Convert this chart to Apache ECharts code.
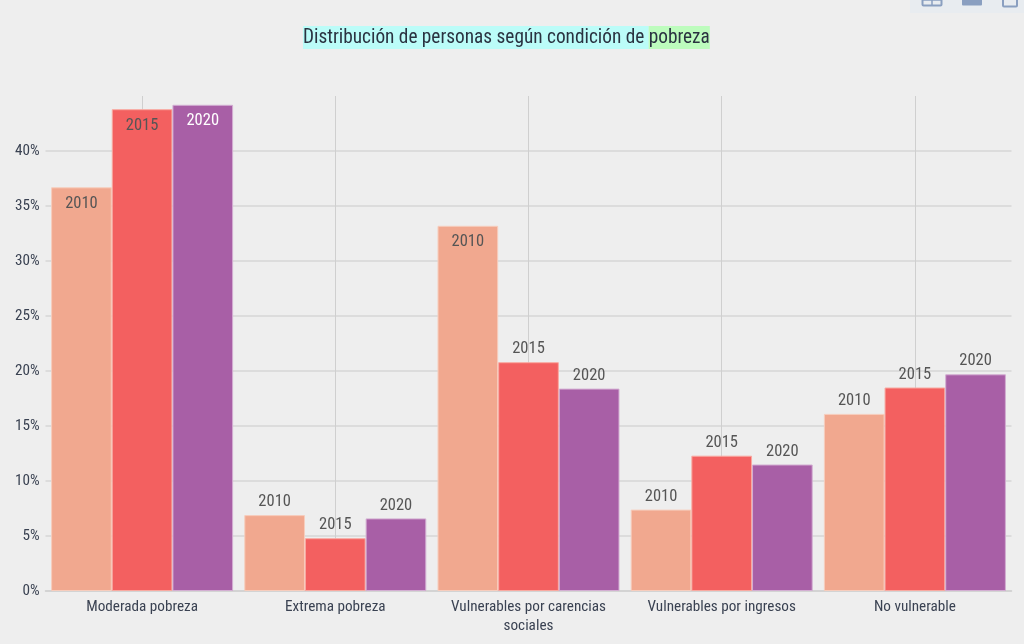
<!DOCTYPE html>
<html><head><meta charset="utf-8">
<style>html,body{margin:0;padding:0;background:#eeeeee}#c{width:1024px;height:644px}</style>
<script src="https://cdn.jsdelivr.net/npm/echarts@6/dist/echarts.min.js"></script>
</head><body><div id="c"></div>
<script>
const categories = ['Moderada pobreza','Extrema pobreza','Vulnerables por carencias\nsociales','Vulnerables por ingresos','No vulnerable'];
const years = ['2010','2015','2020'];
const values2010 = [36.7,6.9,33.2,7.4,16.1];
const values2015 = [43.8,4.8,20.8,12.3,18.5];
const values2020 = [44.2,6.6,18.4,11.5,19.7];
const insideLabels2010 = [0,2];
const insideLabels2015 = [0];
const insideLabels2020 = [0];
const FONT = '"Roboto Condensed",Roboto,sans-serif';
const chart = echarts.init(document.getElementById('c'));
function series(name, vals, inside, color, border, insideColor){
  return {
    name, type:'bar', barWidth:'31.4%', barGap:0,
    itemStyle:{color, borderColor:border, borderWidth:1},
    label:{show:true, position:'top', distance:4.5, formatter:name, color:'#555', fontFamily:FONT, fontSize:16.5},
    data: vals.map((v,i)=> inside.includes(i)
      ? {value:v, label:{position:'insideTop', distance:8, color:insideColor}}
      : v)
  };
}
chart.setOption({
  backgroundColor:'#eeeeee',
  animation:false,
  title:{
    left:303, top:27, padding:0,
    text:'{a|Distribución de personas según condición de }{b|pobreza}',
    textStyle:{fontWeight:'normal',rich:{
      a:{backgroundColor:'#bbfcf8',color:'#2a3240',fontFamily:FONT,fontSize:19.3,fontWeight:'normal',height:21,lineHeight:21,padding:[2,0,0,0]},
      b:{backgroundColor:'#bdfcbd',color:'#2a3240',fontFamily:FONT,fontSize:19.3,fontWeight:'normal',height:21,lineHeight:21,padding:[2,0,0,0]}
    }}
  },
  grid:{left:45.5,right:12.5,top:96,bottom:53},
  xAxis:{
    type:'category', data:categories,
    axisTick:{show:false},
    axisLine:{lineStyle:{color:'#cfcfcf',width:1.5}},
    axisLabel:{color:'#3a4252',fontFamily:FONT,fontSize:15.2,lineHeight:19,margin:7,interval:0},
    splitLine:{show:true,alignWithLabel:true,lineStyle:{color:'#cfcfcf',width:1}}
  },
  yAxis:{
    type:'value', min:0, max:45, interval:5,
    axisLine:{show:false}, axisTick:{show:false},
    axisLabel:{color:'#3a4252',fontFamily:FONT,fontSize:15.2,margin:6,showMaxLabel:false,formatter:'{value}%'},
    splitLine:{showMaxLine:false,lineStyle:{color:'#d6d6d6',width:1.5}}
  },
  series:[
    series(years[0],values2010,insideLabels2010,'#f1a88f','#f7cdbd','#555'),
    series(years[1],values2015,insideLabels2015,'#f36060','#f9a9a0','#555'),
    series(years[2],values2020,insideLabels2020,'#a85fa6','#d3aed2','#ffffff')
  ],
  graphic:[
    {type:'rect',shape:{x:910,y:-2,width:114,height:15},style:{fill:'#e8ecf0'},silent:true},
    {type:'rect',shape:{x:922.5,y:-6,width:19,height:11.5,r:1},style:{fill:'none',stroke:'#8a9fc0',lineWidth:2}},
    {type:'line',shape:{x1:922,y1:0,x2:942,y2:0},style:{stroke:'#8a9fc0',lineWidth:1.5}},
    {type:'line',shape:{x1:932,y1:0,x2:932,y2:6},style:{stroke:'#8a9fc0',lineWidth:1.5}},
    {type:'rect',shape:{x:962,y:-6,width:20,height:11.5,r:1},style:{fill:'#8a9fc0'}},
    {type:'rect',shape:{x:1003,y:-6,width:14,height:12.5,r:1},style:{fill:'none',stroke:'#8a9fc0',lineWidth:2}}
  ]
});
</script></body></html>
